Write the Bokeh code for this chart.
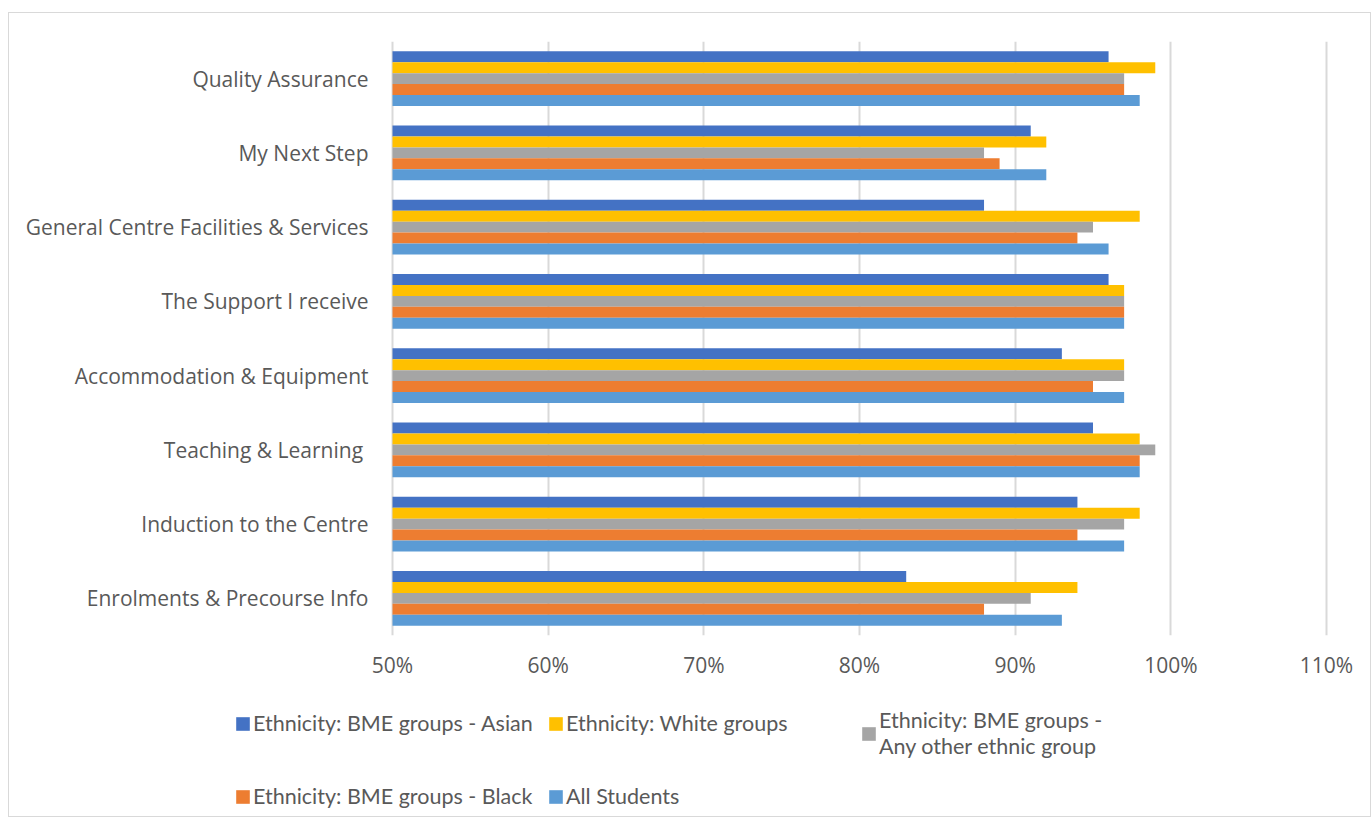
from bokeh.plotting import figure
from bokeh.layouts import column
from bokeh.core.properties import value
from bokeh.models import ColumnDataSource, FactorRange, Range1d, Legend, LegendItem, NumeralTickFormatter, FixedTicker
from bokeh.transform import dodge
from bokeh.embed import file_html
from bokeh.resources import INLINE

categories = ["Quality Assurance", "My Next Step", "General Centre Facilities & Services",
              "The Support I receive", "Accommodation & Equipment", "Teaching & Learning ",
              "Induction to the Centre", "Enrolments & Precourse Info"]
asian = [0.96, 0.91, 0.88, 0.96, 0.93, 0.95, 0.94, 0.83]
white = [0.99, 0.92, 0.98, 0.97, 0.97, 0.98, 0.98, 0.94]
other = [0.97, 0.88, 0.95, 0.97, 0.97, 0.99, 0.97, 0.91]
black = [0.97, 0.89, 0.94, 0.97, 0.95, 0.98, 0.94, 0.88]
all_students = [0.98, 0.92, 0.96, 0.97, 0.97, 0.98, 0.97, 0.93]

series_names = ["Ethnicity: BME groups - Asian", "Ethnicity: White groups",
                "Ethnicity: BME groups -\nAny other ethnic group",
                "Ethnicity: BME groups - Black", "All Students"]
series_keys = ["asian", "white", "other", "black", "all"]
colors = ["#4472C4", "#FFC000", "#A5A5A5", "#ED7D31", "#5B9BD5"]
tick_values = [0.5, 0.6, 0.7, 0.8, 0.9, 1.0, 1.1]

src = ColumnDataSource(dict(cat=categories, asian=asian, white=white, other=other,
                            black=black, all=all_students))

W = 1361
AXIS_START = tick_values[0]
# frame spans the whole figure width; the value axis starts 383px in from the left edge
PX_PER_UNIT = 934 / (tick_values[-1] - tick_values[0])
x_lo = AXIS_START - 383 / PX_PER_UNIT
x_hi = AXIS_START + (W - 383) / PX_PER_UNIT

p = figure(width=W, height=682, output_backend="svg", toolbar_location=None,
           y_range=FactorRange(factors=list(reversed(categories))),
           x_range=Range1d(x_lo, x_hi),
           min_border_left=0, min_border_right=0, min_border_top=28, min_border_bottom=60)
p.outline_line_color = None
p.yaxis.visible = False

bh = 0.148
offsets = [2 * bh, bh, 0, -bh, -2 * bh]
renderers = []
for key, off, col in zip(series_keys, offsets, colors):
    r = p.hbar(y=dodge("cat", off, range=p.y_range), left=AXIS_START, right=key, height=bh,
               source=src, fill_color=col, line_color=None)
    renderers.append(r)

# category labels, right-aligned against the start of the value axis
p.text(x=AXIS_START, y="cat", text="cat", source=src, x_offset=-24,
       text_align="right", text_baseline="middle", text_color="#595959",
       text_font=value("Open Sans"), text_font_size="21px")

p.xaxis.ticker = FixedTicker(ticks=tick_values)
p.xaxis.formatter = NumeralTickFormatter(format="0%")
xa = p.xaxis[0]
xa.axis_line_color = None
xa.major_tick_line_color = None
xa.minor_tick_line_color = None
xa.major_label_text_color = "#595959"
xa.major_label_text_font = "Open Sans"
xa.major_label_text_font_size = "21px"
xa.major_label_standoff = 9

p.xgrid.ticker = FixedTicker(ticks=tick_values)
p.xgrid.grid_line_color = "#d9d9d9"
p.xgrid.grid_line_width = 2
p.ygrid.grid_line_color = None

# legend figure below the chart (proxy swatches lie outside its visible range)
lf = figure(width=W, height=121, output_backend="svg", toolbar_location=None,
            x_range=(0, 1), y_range=(0, 1), min_border=0)
lf.axis.visible = False
lf.grid.visible = False
lf.outline_line_color = None
lsrc = ColumnDataSource(dict(l=[-3], r=[-2], b=[-3], t=[-2]))
lrs = [lf.quad(left="l", right="r", bottom="b", top="t", source=lsrc,
               fill_color=c, line_color=None) for c in colors]
items = [LegendItem(label=n, renderers=[r]) for n, r in zip(series_names, lrs)]

common = dict(label_text_font="Lato", label_text_font_size="21.5px",
              label_text_color="#595959", glyph_width=17, glyph_height=17,
              label_standoff=2, spacing=4, label_width=290, padding=0, margin=0,
              border_line_color=None, background_fill_alpha=0, orientation="horizontal")
leg_a = Legend(items=[items[0], items[1]], location=(225, 80), **common)
leg_b = Legend(items=[items[2]], location=(851, 57), **common)
leg_c = Legend(items=[items[3], items[4]], location=(225, 7), **common)
for lg in (leg_a, leg_b, leg_c):
    lf.add_layout(lg, "center")

layout = column(p, lf, spacing=0)
layout.styles = {"border": "1px solid #d9d9d9", "margin-top": "12px", "margin-left": "8px"}

open("out.html", "w").write(file_html(layout, INLINE))
